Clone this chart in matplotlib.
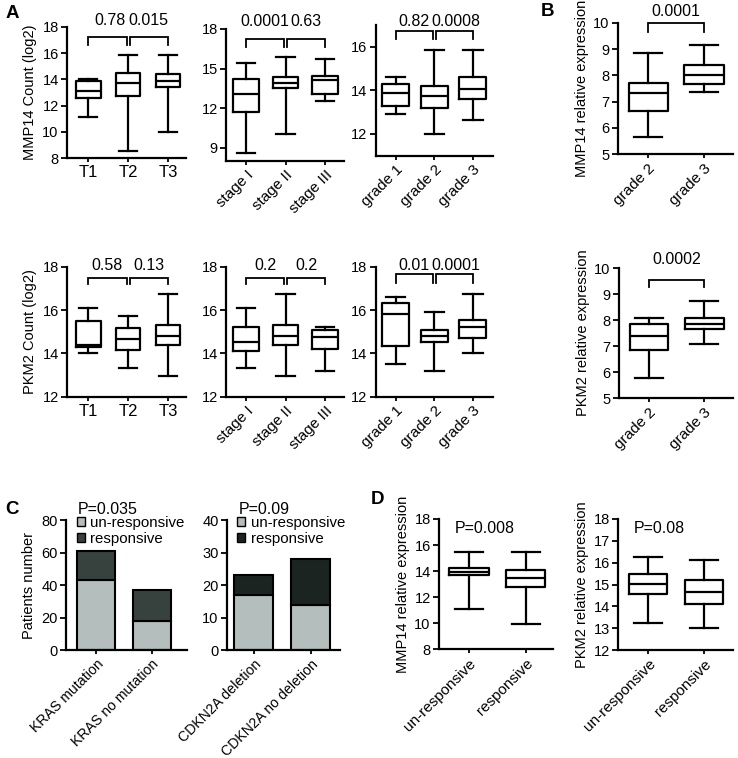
import matplotlib
matplotlib.use('Agg')
import matplotlib.pyplot as plt
from matplotlib.patches import Patch
import matplotlib.transforms as mtransforms

plt.rcParams['font.family'] = ['Liberation Sans', 'DejaVu Sans']
plt.rcParams['font.size'] = 10

# ---------------- data ----------------
t_labels = ['T1', 'T2', 'T3']
stage_labels = ['stage I', 'stage II', 'stage III']
grade_labels = ['grade 1', 'grade 2', 'grade 3']
grade23_labels = ['grade 2', 'grade 3']
resp_labels = ['un-responsive', 'responsive']

# five-number summaries: [whisker low, Q1, median, Q3, whisker high]
mmp14_T = [[11.1, 12.6, 13.1, 13.9, 14.0], [8.5, 12.7, 13.7, 14.5, 15.9], [10.0, 13.4, 13.9, 14.4, 15.9]]
mmp14_stage = [[8.6, 11.7, 13.1, 14.2, 15.45], [10.05, 13.5, 13.9, 14.37, 15.85], [12.53, 13.09, 14.17, 14.47, 15.74]]
mmp14_grade = [[12.9, 13.27, 13.88, 14.31, 14.62], [12.0, 13.2, 13.74, 14.19, 15.85], [12.62, 13.58, 14.08, 14.59, 15.85]]
mmp14_grade_B = [[5.66, 6.65, 7.32, 7.72, 8.86], [7.38, 7.66, 8.0, 8.39, 9.15]]
pkm2_T = [[14.0, 14.3, 14.38, 15.5, 16.08], [13.31, 14.14, 14.66, 15.15, 15.72], [12.95, 14.37, 14.82, 15.31, 16.74]]
pkm2_stage = [[13.31, 14.12, 14.54, 15.2, 16.08], [12.95, 14.37, 14.82, 15.31, 16.74], [13.18, 14.2, 14.74, 15.08, 15.23]]
pkm2_grade = [[13.49, 14.34, 15.82, 16.34, 16.58], [13.18, 14.54, 14.82, 15.08, 15.92], [14.0, 14.69, 15.2, 15.54, 16.74]]
pkm2_grade_B = [[5.79, 6.85, 7.38, 7.87, 8.10], [7.1, 7.67, 7.87, 8.08, 8.73]]
mmp14_resp = [[11.08, 13.67, 13.97, 14.23, 15.44], [9.97, 12.77, 13.51, 14.05, 15.44]]
pkm2_resp = [[13.22, 14.55, 15.02, 15.47, 16.28], [12.99, 14.11, 14.65, 15.21, 16.1]]

p_mmp14_T = ['0.78', '0.015']
p_mmp14_stage = ['0.0001', '0.63']
p_mmp14_grade = ['0.82', '0.0008']
p_mmp14_B = ['0.0001']
p_pkm2_T = ['0.58', '0.13']
p_pkm2_stage = ['0.2', '0.2']
p_pkm2_grade = ['0.01', '0.0001']
p_pkm2_B = ['0.0002']

kras_labels = ['KRAS mutation', 'KRAS no mutation']
kras_unresp = [43, 18]
kras_resp = [18, 19]
cdkn2a_labels = ['CDKN2A deletion', 'CDKN2A no deletion']
cdkn2a_unresp = [17, 14]
cdkn2a_resp = [6, 14]
p_kras = 'P=0.035'
p_cdkn2a = 'P=0.09'
p_mmp14_resp = 'P=0.008'
p_pkm2_resp = 'P=0.08'

light = '#b4bebc'
dark_kras = '#37423f'
dark_cdkn = '#1c2422'

# ---------------- layout helpers ----------------
W, H = 738, 758
fig = plt.figure(figsize=(W / 100, H / 100), dpi=100)
LW = 1.6


def add_ax(x0, x1, ytop, ybot):
    return fig.add_axes([x0 / W, 1 - ybot / H, (x1 - x0) / W, (ybot - ytop) / H])


def style(ax, xlim, ylim, yticks):
    ax.set_xlim(xlim)
    ax.set_ylim(ylim)
    ax.set_yticks(yticks)
    for s in ['top', 'right']:
        ax.spines[s].set_visible(False)
    for s in ['left', 'bottom']:
        ax.spines[s].set_linewidth(LW)
    ax.tick_params(width=1.3, length=4, labelsize=10.5, pad=2)
    ax.tick_params(axis='x', length=3)


def box(ax, summaries, labels, width, xlim, ylim, yticks, rot=False):
    stats = [dict(whislo=s[0], q1=s[1], med=s[2], q3=s[3], whishi=s[4], fliers=[])
             for s in summaries]
    pos = list(range(len(stats)))
    ax.bxp(stats, positions=pos, widths=width, capwidths=width * 0.72, showfliers=False,
           boxprops=dict(color='k', linewidth=LW), whiskerprops=dict(color='k', linewidth=LW),
           capprops=dict(color='k', linewidth=LW), medianprops=dict(color='k', linewidth=LW))
    style(ax, xlim, ylim, yticks)
    ax.set_xticks(pos)
    if rot:
        ax.set_xticklabels(labels, rotation=45, ha='right', rotation_mode='anchor', fontsize=11)
    else:
        ax.set_xticklabels(labels, fontsize=12)


def brackets(ax, pairs, texts, ytop, ydrop, ytext, tx=None):
    tr = mtransforms.blended_transform_factory(ax.transData, ax.transAxes)
    for i, ((a, b), t) in enumerate(zip(pairs, texts)):
        ax.plot([a, a, b, b], [ydrop, ytop, ytop, ydrop], transform=tr, color='k',
                lw=1.3, clip_on=False, solid_joinstyle='miter')
        x = (a + b) / 2 if tx is None else tx[i]
        ax.text(x, ytext, t, transform=tr, ha='center', va='center', fontsize=11.5)


pairs3 = [(0, 0.96), (1.04, 2)]
pairs2 = [(0, 1)]

# ---------------- Panel A, row 1 ----------------
ax = add_ax(67, 186, 27, 158)
box(ax, mmp14_T, t_labels, 0.62, (-0.53, 2.45), (8, 18), [8, 10, 12, 14, 16, 18])
ax.set_ylabel('MMP14 Count (log2)', fontsize=10.5, labelpad=4)
brackets(ax, pairs3, p_mmp14_T, 0.924, 0.865, 1.046, tx=[0.55, 1.52])

ax = add_ax(226, 344, 29, 161)
box(ax, mmp14_stage, stage_labels, 0.64, (-0.51, 2.48), (8, 18), [9, 12, 15, 18], rot=True)
brackets(ax, pairs3, p_mmp14_stage, 0.924, 0.866, 1.06)

ax = add_ax(375.7, 493, 25, 155.7)
box(ax, mmp14_grade, grade_labels, 0.7, (-0.52, 2.52), (11, 17), [12, 14, 16], rot=True)
brackets(ax, pairs3, p_mmp14_grade, 0.956, 0.893, 1.028, tx=[0.46, 1.56])

# ---------------- Panel B ----------------
ax = add_ax(618, 733, 23, 154)
box(ax, mmp14_grade_B, grade23_labels, 0.7, (-0.54, 1.52), (5, 10), [5, 6, 7, 8, 9, 10], rot=True)
ax.set_ylabel('MMP14 relative expression', fontsize=10.5, labelpad=3)
brackets(ax, pairs2, p_mmp14_B, 0.998, 0.934, 1.086)

# ---------------- Panel A, row 2 ----------------
ax = add_ax(67, 186, 266.7, 396.7)
box(ax, pkm2_T, t_labels, 0.62, (-0.53, 2.45), (12, 18), [12, 14, 16, 18])
ax.set_ylabel('PKM2 Count (log2)', fontsize=10.5, labelpad=4)
brackets(ax, pairs3, p_pkm2_T, 0.915, 0.867, 1.013)

ax = add_ax(226, 344, 266.7, 396.7)
box(ax, pkm2_stage, stage_labels, 0.64, (-0.51, 2.48), (12, 18), [12, 14, 16, 18], rot=True)
brackets(ax, pairs3, p_pkm2_stage, 0.915, 0.867, 1.013)

ax = add_ax(375.7, 493, 266.7, 396.7)
box(ax, pkm2_grade, grade_labels, 0.7, (-0.52, 2.52), (12, 18), [12, 14, 16, 18], rot=True)
brackets(ax, pairs3, p_pkm2_grade, 0.942, 0.877, 1.013, tx=[0.46, 1.56])

ax = add_ax(619, 733, 268.3, 398)
box(ax, pkm2_grade_B, grade23_labels, 0.7, (-0.54, 1.52), (5, 10), [5, 6, 7, 8, 9, 10], rot=True)
ax.set_ylabel('PKM2 relative expression', fontsize=10.5, labelpad=3)
brackets(ax, pairs2, p_pkm2_B, 0.91, 0.858, 1.07)


# ---------------- Panel C ----------------
def stacked(ax, labels, unresp, resp, dark, xlim, ylim, yticks, ptext):
    x = list(range(len(labels)))
    ax.bar(x, unresp, width=0.68, color=light, edgecolor='k', linewidth=1.5, zorder=2)
    ax.bar(x, resp, bottom=unresp, width=0.68, color=dark, edgecolor='k', linewidth=1.5, zorder=2)
    style(ax, xlim, ylim, yticks)
    ax.set_xticks(x)
    ax.set_xticklabels(labels, rotation=45, ha='right', rotation_mode='anchor', fontsize=10.2)
    handles = [Patch(facecolor=light, edgecolor='k', linewidth=1.0),
               Patch(facecolor=dark, edgecolor='k', linewidth=1.0)]
    ax.legend(handles, ['un-responsive', 'responsive'], loc='upper left',
              bbox_to_anchor=(0.09, 1.03), frameon=False, handlelength=0.55,
              handleheight=0.55, handletextpad=0.35, borderpad=0, borderaxespad=0,
              labelspacing=0.12, fontsize=10.8)
    ax.text(0.1, 1.084, ptext, transform=ax.transAxes, ha='left', va='center', fontsize=11.5)


ax = add_ax(66, 187, 520, 650.3)
stacked(ax, kras_labels, kras_unresp, kras_resp, dark_kras, (-0.54, 1.63), (0, 80),
        [0, 20, 40, 60, 80], p_kras)
ax.set_ylabel('Patients number', fontsize=10.5, labelpad=4)

ax = add_ax(227, 340, 520, 650.3)
stacked(ax, cdkn2a_labels, cdkn2a_unresp, cdkn2a_resp, dark_cdkn, (-0.47, 1.51), (0, 40),
        [0, 10, 20, 30, 40], p_cdkn2a)

# ---------------- Panel D ----------------
ax = add_ax(439, 553, 519, 649.3)
box(ax, mmp14_resp, resp_labels, 0.69, (-0.53, 1.48), (8, 18), [8, 10, 12, 14, 16, 18], rot=True)
ax.set_ylabel('MMP14 relative expression', fontsize=10.5, labelpad=3)
ax.text(0.14, 0.93, p_mmp14_resp, transform=ax.transAxes, ha='left', va='center', fontsize=11.5)

ax = add_ax(618, 733, 519, 650)
box(ax, pkm2_resp, resp_labels, 0.69, (-0.54, 1.52), (12, 18), [12, 13, 14, 15, 16, 17, 18], rot=True)
ax.set_ylabel('PKM2 relative expression', fontsize=10.5, labelpad=3)
ax.text(0.14, 0.93, p_pkm2_resp, transform=ax.transAxes, ha='left', va='center', fontsize=11.5)

# ---------------- panel letters ----------------
for letter, (px, py) in {'A': (12, 13), 'B': (547, 12), 'C': (12, 510), 'D': (378, 499)}.items():
    fig.text(px / W, 1 - py / H, letter, ha='center', va='center', fontsize=13.5,
             fontweight='bold')

fig.savefig('out.png', dpi=100)
